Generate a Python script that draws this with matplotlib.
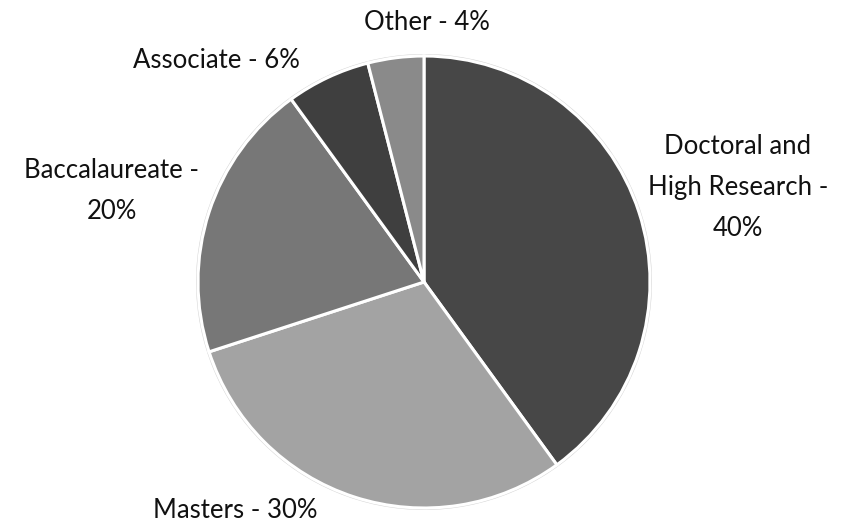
import matplotlib
matplotlib.use("Agg")
import matplotlib.pyplot as plt

categories = ["Doctoral and\nHigh Research -\n40%", "Masters - 30%", "Baccalaureate -\n20%", "Associate - 6%", "Other - 4%"]
values = [40, 30, 20, 6, 4]
colors = ["#474747", "#a3a3a3", "#777777", "#3f3f3f", "#8a8a8a"]
label_pos = [(738, 188), (235, 510), (112, 191), (216, 60), (427, 22)]

W, H = 848, 528
fig = plt.figure(figsize=(W / 100, H / 100), dpi=100)
ax = fig.add_axes([0, 0, 1, 1])
ax.set_xlim(0, W)
ax.set_ylim(0, H)
ax.set_aspect("equal")
ax.axis("off")

cx, cy, r = 424, H - 282, 226
# subtle outer shadow ring
ax.pie([1], radius=r + 2, center=(cx, cy), colors=["#d6d6d6"], frame=True)
ax.pie(values, radius=r, center=(cx, cy), colors=colors, startangle=90, counterclock=False,
       wedgeprops=dict(edgecolor="white", linewidth=2.2), frame=True)
ax.set_xlim(0, W)
ax.set_ylim(0, H)
ax.axis("off")

for lab, (x, y) in zip(categories, label_pos):
    ax.text(x, H - y, lab, ha="center", va="center", fontsize=18.5, family="Lato",
            color="#111111", linespacing=1.8)

fig.savefig("out.png", dpi=100)
